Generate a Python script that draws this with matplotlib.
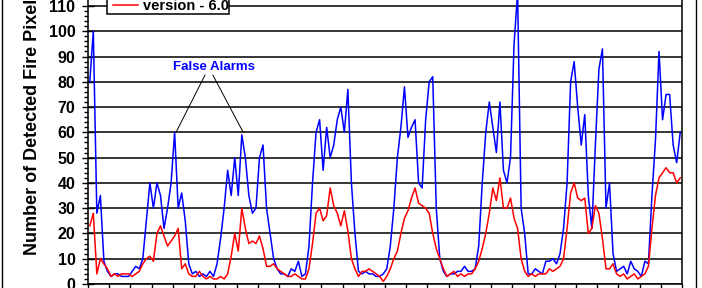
import matplotlib
matplotlib.use("Agg")
import matplotlib.pyplot as plt
from matplotlib.lines import Line2D
from matplotlib.legend_handler import HandlerLine2D
import numpy as np

plt.rcParams['font.family'] = ['Liberation Sans', 'DejaVu Sans']
plt.rcParams['font.weight'] = 'bold'

# fire pixel counts per period (6 periods per quarter tick, 7 years)
v5 = [80, 100, 28, 35, 9, 5, 3, 4, 4, 3, 3, 3, 5, 7, 6, 10, 25, 40, 30, 40,
      35, 22, 30, 40, 60, 30, 36, 25, 8, 4, 5, 3, 4, 3, 5, 3, 8, 18, 30, 45,
      35, 50, 35, 59, 50, 35, 28, 30, 50, 55, 30, 20, 10, 6, 4, 4, 3, 6, 5, 9,
      3, 4, 15, 40, 60, 65, 45, 62, 50, 55, 65, 70, 60, 77, 40, 20, 5, 4, 5, 4,
      4, 3, 3, 4, 6, 15, 30, 50, 62, 78, 58, 62, 65, 40, 38, 65, 80, 82, 30, 10,
      5, 3, 4, 4, 5, 5, 7, 5, 5, 6, 15, 40, 60, 72, 62, 52, 72, 45, 40, 50,
      95, 115, 30, 20, 4, 4, 6, 5, 4, 9, 9, 10, 8, 12, 22, 40, 80, 88, 70, 55,
      67, 35, 22, 55, 85, 93, 30, 40, 12, 5, 6, 7, 4, 9, 6, 5, 3, 9, 8, 35,
      57, 92, 65, 75, 75, 55, 48, 60]
v6 = [23, 28, 4, 10, 8, 6, 3, 4, 3, 4, 4, 4, 3, 4, 5, 8, 10, 11, 9, 20,
      23, 19, 15, 17, 19, 22, 6, 8, 4, 3, 3, 5, 3, 2, 3, 2, 2, 3, 2, 4,
      11, 20, 13, 30, 22, 16, 17, 16, 19, 14, 7, 7, 8, 6, 5, 4, 3, 3, 4, 3,
      2, 2, 6, 16, 28, 30, 25, 27, 38, 31, 28, 23, 29, 21, 10, 6, 3, 5, 5, 6,
      5, 4, 3, 1, 3, 6, 10, 13, 20, 26, 29, 34, 38, 32, 31, 30, 28, 20, 14, 10,
      6, 3, 4, 5, 3, 4, 3, 4, 4, 6, 9, 14, 20, 28, 38, 33, 42, 30, 30, 34,
      26, 22, 10, 5, 3, 4, 3, 4, 4, 4, 6, 5, 6, 7, 10, 22, 36, 40, 34, 33,
      34, 20, 22, 31, 28, 18, 6, 6, 8, 4, 3, 4, 2, 3, 4, 2, 3, 4, 7, 22,
      35, 42, 44, 46, 44, 44, 40, 42]
labels = ['version - 5.1', 'version - 6.0']
per_tick = 6

x = np.arange(len(v5))

fig = plt.figure(figsize=(7.02, 2.88), dpi=100)
ax = fig.add_axes([88 / 702, 4 / 288, 594 / 702, 303.3 / 288])

ax.yaxis.grid(True, color='black', lw=1.1)
ax.set_axisbelow(True)
l5, = ax.plot(x, v5, color='#0000ff', lw=1.1)
l6, = ax.plot(x, v6, color='#ff0000', lw=1.1)

ax.set_xlim(-0.5, len(v5) - 0.5)
ax.set_ylim(0, 120)
ax.set_xticks(np.arange(-0.5, len(v5), per_tick))
ax.set_xticklabels([])
ax.set_yticks(np.arange(0, 111, 10))
ax.set_yticks(np.arange(0, 111, 2), minor=True)
ax.tick_params(axis='y', which='major', direction='inout', length=8, width=1,
               labelsize=11.5, pad=5)
ax.tick_params(axis='y', which='minor', direction='out', length=3, width=1)
ax.tick_params(axis='x', which='major', direction='out', length=8, width=1)
for lab in ax.get_yticklabels():
    lab.set_fontweight('bold')
for s in ax.spines.values():
    s.set_linewidth(1.1)

ax.text(35.1, 85.7, 'False Alarms', color='#0000ff', fontsize=9.5,
        fontweight='bold', ha='center', va='center')
ax.annotate('', xy=(24.4, 60), xytext=(32.6, 82.7),
            arrowprops=dict(arrowstyle='-', lw=0.7, color='black',
                            shrinkA=0, shrinkB=0))
ax.annotate('', xy=(43.4, 60), xytext=(34.8, 82.7),
            arrowprops=dict(arrowstyle='-', lw=0.7, color='black',
                            shrinkA=0, shrinkB=0))

leg = ax.legend([l5, l6], labels, loc='lower left',
                bbox_to_anchor=(107 / 702, 1 - 14 / 288),
                bbox_transform=fig.transFigure, fancybox=False,
                edgecolor='black', framealpha=1, borderpad=0.05,
                borderaxespad=0, handlelength=2.05, handletextpad=0.34,
                labelspacing=0.2, prop={'size': 10.5, 'weight': 'bold'},
                handler_map={Line2D: HandlerLine2D(xpad=0.34)})
leg.get_frame().set_linewidth(1.1)

fig.text(32.5 / 702, 33 / 288, 'Number of Detected Fire Pixels', rotation=90,
         ha='center', va='bottom', fontsize=13, fontweight='bold')

fig.add_artist(Line2D([1.5 / 702, 1.5 / 702], [0, 1], color='black', lw=1))
fig.add_artist(Line2D([695.5 / 702, 695.5 / 702], [0, 1], color='black', lw=1))

fig.savefig('out.png', dpi=100)
